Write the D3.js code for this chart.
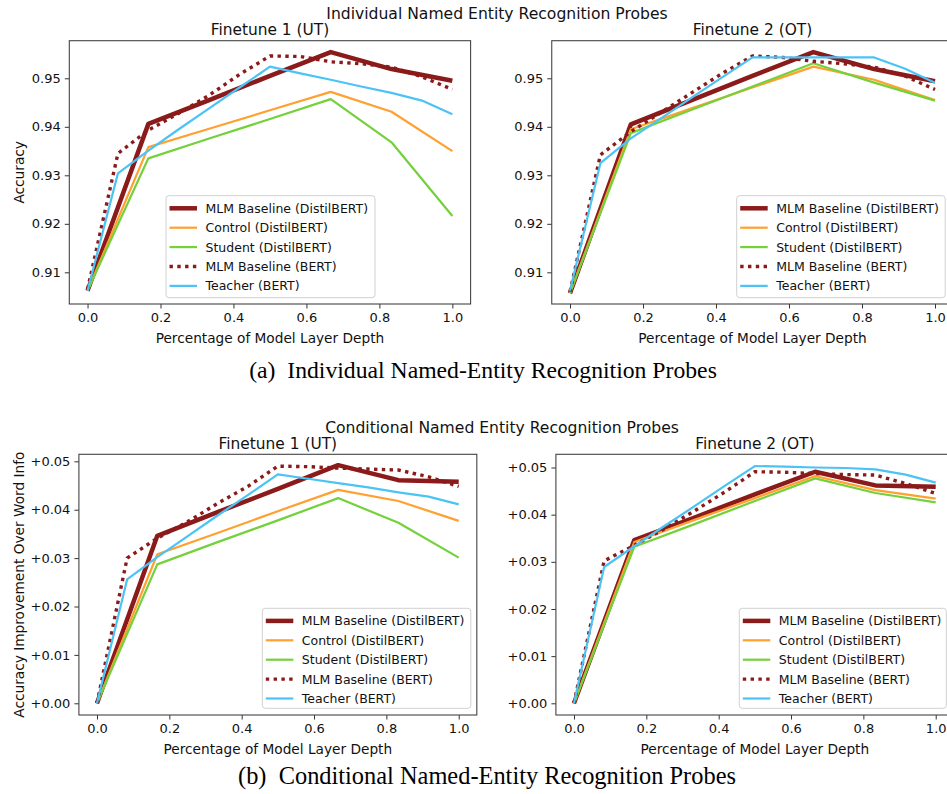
<!DOCTYPE html>
<html><head><meta charset="utf-8">
<script src="https://cdn.jsdelivr.net/npm/d3@7"></script>
<style>
html,body{margin:0;padding:0;background:#fff;}
svg{display:block;font-family:"DejaVu Sans",sans-serif;}
</style></head>
<body>
<svg id="chart" width="947" height="794"></svg>
<script>
// ---------- data ----------
const xDistil = [0, 0.1667, 0.3333, 0.5, 0.6667, 0.8333, 1.0];
const xBert = [0, 0.0833, 0.1667, 0.25, 0.3333, 0.4167, 0.5, 0.5833, 0.6667, 0.75, 0.8333, 0.9167, 1.0];

const seriesNames = ["MLM Baseline (DistilBERT)", "Control (DistilBERT)", "Student (DistilBERT)", "MLM Baseline (BERT)", "Teacher (BERT)"];

// Individual NER probes, Finetune 1 (UT)
const indUT_mlmDistil = [0.9062, 0.9406, 0.9455, 0.9505, 0.9554, 0.9519, 0.9495];
const indUT_control   = [0.9062, 0.9358, 0.9396, 0.9434, 0.9472, 0.9431, 0.9350];
const indUT_student   = [0.9062, 0.9335, 0.9376, 0.9416, 0.9457, 0.9368, 0.9216];
const indUT_mlmBert   = [0.9065, 0.9345, 0.9393, 0.9428, 0.9465, 0.9508, 0.9546, 0.9545, 0.9534, 0.9530, 0.9523, 0.9503, 0.9477];
const indUT_teacher   = [0.9062, 0.9304, 0.9351, 0.9395, 0.9438, 0.9481, 0.9524, 0.9510, 0.9497, 0.9483, 0.9470, 0.9454, 0.9426];

// Individual NER probes, Finetune 2 (OT)
const indOT_mlmDistil = [0.9057, 0.9405, 0.9455, 0.9505, 0.9554, 0.9519, 0.9494];
const indOT_control   = [0.9057, 0.9395, 0.9438, 0.9481, 0.9524, 0.9497, 0.9455];
const indOT_student   = [0.9057, 0.9387, 0.9435, 0.9483, 0.9531, 0.9491, 0.9454];
const indOT_mlmBert   = [0.9060, 0.9342, 0.9390, 0.9430, 0.9470, 0.9510, 0.9546, 0.9543, 0.9535, 0.9530, 0.9523, 0.9505, 0.9477];
const indOT_teacher   = [0.9062, 0.9325, 0.9376, 0.9418, 0.9460, 0.9502, 0.9543, 0.9543, 0.9543, 0.9543, 0.9543, 0.9520, 0.9491];

// Conditional NER probes, Finetune 1 (UT)
const condUT_mlmDistil = [0, 0.0346, 0.0395, 0.0443, 0.0492, 0.0461, 0.0458];
const condUT_control   = [0, 0.0308, 0.0352, 0.0397, 0.0441, 0.0418, 0.0377];
const condUT_student   = [0, 0.0287, 0.0333, 0.0378, 0.0424, 0.0373, 0.0301];
const condUT_mlmBert   = [0, 0.0300, 0.0341, 0.0375, 0.0413, 0.0448, 0.0490, 0.0489, 0.0486, 0.0484, 0.0482, 0.0468, 0.0448];
const condUT_teacher   = [0, 0.0256, 0.0302, 0.0345, 0.0388, 0.0430, 0.0473, 0.0464, 0.0455, 0.0446, 0.0436, 0.0427, 0.0411];

// Conditional NER probes, Finetune 2 (OT)
const condOT_mlmDistil = [0, 0.0346, 0.0394, 0.0443, 0.0491, 0.0462, 0.0459];
const condOT_control   = [0, 0.0342, 0.0389, 0.0435, 0.0482, 0.0452, 0.0434];
const condOT_student   = [0, 0.0332, 0.0380, 0.0429, 0.0477, 0.0446, 0.0426];
const condOT_mlmBert   = [0, 0.0302, 0.0335, 0.0370, 0.0408, 0.0448, 0.0491, 0.0490, 0.0487, 0.0485, 0.0484, 0.0466, 0.0445];
const condOT_teacher   = [0, 0.0289, 0.0333, 0.0376, 0.0418, 0.0461, 0.0503, 0.0502, 0.0500, 0.0499, 0.0496, 0.0485, 0.0468];

const xTicks = [0, 0.2, 0.4, 0.6, 0.8, 1.0];
const indYTicks = [0.91, 0.92, 0.93, 0.94, 0.95];
const condYTicks = [0.00, 0.01, 0.02, 0.03, 0.04, 0.05];

// ---------- styles ----------
const styles = [
  {color: "#8b1a1a", width: 4.5, dash: null},
  {color: "#ffa030", width: 2.2, dash: null},
  {color: "#74d13c", width: 2.2, dash: null},
  {color: "#8b1a1a", width: 3.4, dash: "3.4,4.4"},
  {color: "#4cc3f5", width: 2.2, dash: null}
];

const svg = d3.select("#chart");
const FONT_TICK = 13, FONT_LABEL = 13.7, FONT_TITLE = 15.4, FONT_LEG = 12.5;

function drawPanel(p) {
  const x = d3.scaleLinear().domain([-0.05, 1.05]).range([p.left, p.right]);
  const y = d3.scaleLinear().domain(p.yDomain).range([p.bottom, p.top]);
  const g = svg.append("g");
  const clipId = "clip" + p.id;
  svg.append("clipPath").attr("id", clipId).append("rect")
    .attr("x", p.left).attr("y", p.top).attr("width", p.right - p.left).attr("height", p.bottom - p.top);

  const line = d3.line().x(d => x(d[0])).y(d => y(d[1]));
  const plotG = g.append("g").attr("clip-path", `url(#${clipId})`);
  p.series.forEach((vals, i) => {
    const xs = vals.length === 7 ? xDistil : xBert;
    const st = styles[i];
    plotG.append("path")
      .attr("d", line(vals.map((v, k) => [xs[k], v])))
      .attr("fill", "none").attr("stroke", st.color)
      .attr("stroke-width", st.width)
      .attr("stroke-linejoin", "round")
      .attr("stroke-dasharray", st.dash);
  });

  // axes
  const xAxis = d3.axisBottom(x).tickValues(xTicks).tickFormat(d3.format(".1f")).tickSize(4.5).tickPadding(4);
  const yAxis = d3.axisLeft(y).tickValues(p.yTicks).tickFormat(p.yFormat).tickSize(4.5).tickPadding(4);
  const gx = g.append("g").attr("transform", `translate(0,${p.bottom})`).call(xAxis);
  const gy = g.append("g").attr("transform", `translate(${p.left},0)`).call(yAxis);
  [gx, gy].forEach(a => {
    a.select(".domain").remove();
    a.selectAll("line").attr("stroke", "#333").attr("stroke-width", 1);
    a.selectAll("text").attr("font-size", FONT_TICK).attr("fill", "#111").attr("font-family", "DejaVu Sans");
  });
  // frame
  g.append("rect").attr("x", p.left).attr("y", p.top)
    .attr("width", p.right - p.left).attr("height", p.bottom - p.top)
    .attr("fill", "none").attr("stroke", "#444").attr("stroke-width", 1.1);

  // title
  g.append("text").attr("x", (p.left + p.right) / 2).attr("y", p.top - 5.5)
    .attr("text-anchor", "middle").attr("font-size", FONT_TITLE).attr("fill", "#111").text(p.title);
  // x label
  g.append("text").attr("x", (p.left + p.right) / 2).attr("y", p.bottom + 38.5)
    .attr("text-anchor", "middle").attr("font-size", FONT_LABEL).attr("fill", "#111").text("Percentage of Model Layer Depth");
  if (p.yLabel) {
    g.append("text").attr("transform", `translate(${p.yLabelX},${(p.top + p.bottom) / 2}) rotate(-90)`)
      .attr("text-anchor", "middle").attr("dominant-baseline", "central")
      .attr("font-size", FONT_LABEL).attr("fill", "#111").text(p.yLabel);
  }

  // legend
  const L = p.legend;
  const lg = g.append("g");
  lg.append("rect").attr("x", L.x).attr("y", L.y).attr("width", L.w).attr("height", L.h)
    .attr("rx", 3).attr("fill", "#fff").attr("fill-opacity", 0.85)
    .attr("stroke", "#d0d0d0").attr("stroke-width", 1);
  seriesNames.forEach((name, i) => {
    const cy = L.y + 12.6 + i * 19.4;
    const st = styles[i];
    lg.append("line").attr("x1", L.x + 3.5).attr("x2", L.x + 31).attr("y1", cy).attr("y2", cy)
      .attr("stroke", st.color).attr("stroke-width", st.width).attr("stroke-dasharray", st.dash);
    lg.append("text").attr("x", L.x + 39.5).attr("y", cy).attr("dominant-baseline", "central")
      .attr("font-size", FONT_LEG).attr("fill", "#111").text(name);
  });
}

const fmtInd = d3.format(".2f");
const fmtCond = v => "+" + d3.format(".2f")(v);

const indDomain = [0.90347, 0.95775];

drawPanel({id: 1, left: 69.3, right: 470.6, top: 40.7, bottom: 304, yDomain: indDomain,
  yTicks: indYTicks, yFormat: fmtInd, title: "Finetune 1 (UT)", yLabel: "Accuracy", yLabelX: 18.5,
  series: [indUT_mlmDistil, indUT_control, indUT_student, indUT_mlmBert, indUT_teacher],
  legend: {x: 166, y: 195.7, w: 209, h: 102}});
drawPanel({id: 2, left: 551.75, right: 953.25, top: 40.7, bottom: 304, yDomain: indDomain,
  yTicks: indYTicks, yFormat: fmtInd, title: "Finetune 2 (OT)",
  series: [indOT_mlmDistil, indOT_control, indOT_student, indOT_mlmBert, indOT_teacher],
  legend: {x: 736.7, y: 195.7, w: 208.5, h: 102}});
drawPanel({id: 3, left: 78.9, right: 476.8, top: 454.3, bottom: 715, yDomain: [-0.00242, 0.05145],
  yTicks: condYTicks, yFormat: fmtCond, title: "Finetune 1 (UT)", yLabel: "Accuracy Improvement Over Word Info", yLabelX: 18.5,
  series: [condUT_mlmDistil, condUT_control, condUT_student, condUT_mlmBert, condUT_teacher],
  legend: {x: 262.3, y: 608.3, w: 208.5, h: 100}});
drawPanel({id: 4, left: 555.9, right: 953.8, top: 454.3, bottom: 715, yDomain: [-0.00248, 0.0528],
  yTicks: condYTicks, yFormat: fmtCond, title: "Finetune 2 (OT)",
  series: [condOT_mlmDistil, condOT_control, condOT_student, condOT_mlmBert, condOT_teacher],
  legend: {x: 739.3, y: 608.3, w: 207, h: 100}});

// figure titles
svg.append("text").attr("x", 497).attr("y", 18.5).attr("text-anchor", "middle")
  .attr("font-size", 15.6).attr("fill", "#111").text("Individual Named Entity Recognition Probes");
svg.append("text").attr("x", 502).attr("y", 432.5).attr("text-anchor", "middle")
  .attr("font-size", 15.6).attr("fill", "#111").text("Conditional Named Entity Recognition Probes");

// captions
svg.append("text").attr("x", 483).attr("y", 378).attr("text-anchor", "middle")
  .attr("font-family", "Liberation Serif").attr("font-size", 23.7).attr("fill", "#000")
  .text("(a)\u2002Individual Named-Entity Recognition Probes");
svg.append("text").attr("x", 487).attr("y", 784).attr("text-anchor", "middle")
  .attr("font-family", "Liberation Serif").attr("font-size", 24.4).attr("fill", "#000")
  .text("(b)\u2002Conditional Named-Entity Recognition Probes");
</script>
</body></html>
